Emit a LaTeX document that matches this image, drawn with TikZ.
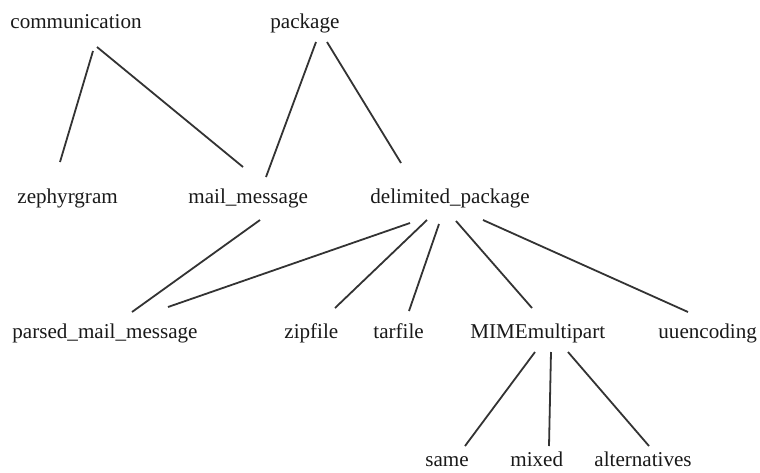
\documentclass[tikz,border=0pt]{standalone}
\usepackage{fontspec}
\setmainfont{Liberation Serif}
\usepackage{tikz}

\tikzset{
  cls/.style={anchor=base west,inner sep=0pt,text=black!90,
    font=\fontsize{10.55}{12}\selectfont},
  isa/.style={draw=black!80,line width=0.9pt}}

\begin{document}
\begin{tikzpicture}[x=0.5pt,y=-0.5pt]
\useasboundingbox (0,0) rectangle (760,472);
% classes, row by row
\node[cls] (comm) at (10,28) {communication};
\node[cls] (pkg) at (270,28) {package};
\node[cls] (zeph) at (17,203) {zephyrgram};
\node[cls] (mail) at (188,203) {mail\_message};
\node[cls] (delim) at (370,203) {delimited\_package};
\node[cls] (parsed) at (12,338) {parsed\_mail\_message};
\node[cls] (zip) at (284,338) {zipfile};
\node[cls] (tar) at (373,338) {tarfile};
\node[cls] (mime) at (470,338) {MIMEmultipart};
\node[cls] (uu) at (658,338) {uuencoding};
\node[cls] (same) at (425,466) {same};
\node[cls] (mixed) at (510,466) {mixed};
\node[cls] (alt) at (594,466) {alternatives};
% subclass links
\path[isa] ([shift={(83,23)}]comm.base west) -- ([shift={(43,-41)}]zeph.base west);
\path[isa] ([shift={(87,19)}]comm.base west) -- ([shift={(55,-36)}]mail.base west);
\path[isa] ([shift={(46,14)}]pkg.base west) -- ([shift={(78,-26)}]mail.base west);
\path[isa] ([shift={(57,14)}]pkg.base west) -- ([shift={(31,-40)}]delim.base west);
\path[isa] ([shift={(72,17)}]mail.base west) -- ([shift={(120,-26)}]parsed.base west);
\path[isa] ([shift={(40,20)}]delim.base west) -- ([shift={(156,-31)}]parsed.base west);
\path[isa] ([shift={(57,17)}]delim.base west) -- ([shift={(51,-30)}]zip.base west);
\path[isa] ([shift={(69,21)}]delim.base west) -- ([shift={(36,-27)}]tar.base west);
\path[isa] ([shift={(86,18)}]delim.base west) -- ([shift={(62,-30)}]mime.base west);
\path[isa] ([shift={(113,17)}]delim.base west) -- ([shift={(30,-26)}]uu.base west);
\path[isa] ([shift={(65,14)}]mime.base west) -- ([shift={(40,-20)}]same.base west);
\path[isa] ([shift={(81,14)}]mime.base west) -- ([shift={(39,-20)}]mixed.base west);
\path[isa] ([shift={(98,14)}]mime.base west) -- ([shift={(55,-20)}]alt.base west);
\end{tikzpicture}
\end{document}
